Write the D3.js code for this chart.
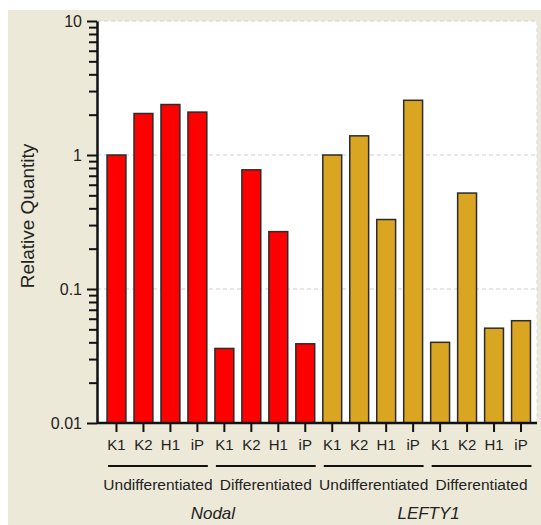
<!DOCTYPE html>
<html>
<head>
<meta charset="utf-8">
<script src="https://cdn.jsdelivr.net/npm/d3@7"></script>
<style>
  body { margin: 0; background: #fff; }
  svg { display: block; font-family: "Liberation Sans", Arial, sans-serif; }
</style>
</head>
<body>
<div id="chart"></div>
<script>
const genes = ['Nodal', 'LEFTY1'];
const conditions = ['Undifferentiated', 'Differentiated'];
const cellLines = ['K1', 'K2', 'H1', 'iP'];
// per gene: undifferentiated K1..iP, then differentiated K1..iP
const nodalValues = [1.0, 2.04, 2.38, 2.09, 0.036, 0.775, 0.268, 0.039];
const lefty1Values = [1.0, 1.39, 0.33, 2.56, 0.040, 0.52, 0.051, 0.058];
const yMajorTicks = [0.01, 0.1, 1, 10];
const colors = { 'Nodal': '#ff0000', 'LEFTY1': '#daa520' };

const W = 541, H = 525;
const plot = { left: 97, right: 537, top: 21, bottom: 423 };

// flatten into one row per bar
const rows = [];
[nodalValues, lefty1Values].forEach((vals, g) => {
  vals.forEach((v, i) => {
    const c = Math.floor(i / cellLines.length);
    rows.push({
      key: `${genes[g]}-${conditions[c]}-${cellLines[i % cellLines.length]}`,
      gene: genes[g], cond: conditions[c], line: cellLines[i % cellLines.length], value: v
    });
  });
});

const svg = d3.select('#chart').append('svg')
  .attr('width', W).attr('height', H);

svg.append('rect')
  .attr('x', 8).attr('y', 10).attr('width', W - 8).attr('height', H - 10)
  .attr('fill', '#ece9d8');

svg.append('rect')
  .attr('x', plot.left).attr('y', plot.top)
  .attr('width', plot.right - plot.left).attr('height', plot.bottom - plot.top)
  .attr('fill', '#fff');

const x = d3.scaleBand()
  .domain(rows.map(d => d.key))
  .range([103, 534.5])
  .paddingInner(0.3)
  .paddingOuter(0.15);

const y = d3.scaleLog().domain([0.01, 10]).range([plot.bottom, plot.top]);

// dashed gridlines
svg.append('g')
  .selectAll('line')
  .data(yMajorTicks.slice(1))
  .enter()
  .append('line')
    .attr('x1', plot.left).attr('x2', plot.right)
    .attr('y1', d => y(d)).attr('y2', d => y(d))
    .attr('stroke', '#cfcfcf')
    .attr('stroke-width', 1.2)
    .attr('stroke-dasharray', '4,3');

svg.append('line')
  .attr('x1', plot.right).attr('x2', plot.right)
  .attr('y1', plot.top).attr('y2', plot.bottom)
  .attr('stroke', '#d8d8d8').attr('stroke-dasharray', '4,3');

// bars
svg.append('g')
  .selectAll('rect')
  .data(rows)
  .enter()
  .append('rect')
    .attr('x', d => x(d.key))
    .attr('y', d => y(d.value))
    .attr('width', x.bandwidth())
    .attr('height', d => y(0.01) - y(d.value))
    .attr('fill', d => colors[d.gene])
    .attr('stroke', '#2b2b2b')
    .attr('stroke-width', 1.5);

// y axis: minor ticks then majors
const minorTicks = [];
yMajorTicks.slice(0, -1).forEach(base => {
  for (let k = 2; k <= 9; k++) minorTicks.push(base * k);
});

const yMinor = svg.append('g')
  .attr('transform', `translate(${plot.left},0)`)
  .call(d3.axisLeft(y).tickValues(minorTicks).tickSize(8).tickFormat(''));
yMinor.select('.domain').remove();
yMinor.selectAll('line').attr('stroke', '#111').attr('stroke-width', 2);

const yAxis = svg.append('g')
  .attr('transform', `translate(${plot.left},0)`)
  .call(d3.axisLeft(y).tickValues(yMajorTicks).tickSize(10).tickSizeOuter(0)
    .tickFormat(d => d3.format('~g')(d)));
yAxis.select('.domain').attr('stroke', '#111').attr('stroke-width', 2.5);
yAxis.selectAll('.tick line').attr('stroke', '#111').attr('stroke-width', 2);
yAxis.selectAll('.tick text')
  .attr('x', -15)
  .attr('font-size', 16)
  .attr('fill', '#222')
  .attr('font-family', '"Liberation Sans", Arial, sans-serif');

svg.append('text')
  .attr('transform', 'translate(34,216) rotate(-90)')
  .attr('text-anchor', 'middle')
  .attr('font-size', 19)
  .attr('fill', '#222')
  .text('Relative Quantity');

// x axis
const xAxis = svg.append('g')
  .attr('transform', `translate(0,${plot.bottom})`)
  .call(d3.axisBottom(x).tickSize(9).tickSizeOuter(0).tickFormat(k => rows.find(r => r.key === k).line));
xAxis.select('.domain').attr('stroke', '#111').attr('stroke-width', 2.5)
  .attr('d', `M${plot.left},0H${plot.right}`);
xAxis.selectAll('.tick line').attr('stroke', '#111').attr('stroke-width', 2);
xAxis.selectAll('.tick text')
  .attr('y', 16)
  .attr('font-size', 15)
  .attr('fill', '#222')
  .attr('font-family', '"Liberation Sans", Arial, sans-serif');

// condition groups
const groups = [];
genes.forEach(g => conditions.forEach(c => {
  const keys = rows.filter(r => r.gene === g && r.cond === c).map(r => r.key);
  groups.push({ gene: g, cond: c, x0: x(keys[0]), x1: x(keys[keys.length - 1]) + x.bandwidth() });
}));

const grp = svg.append('g');
grp.selectAll('line')
  .data(groups)
  .enter()
  .append('line')
    .attr('x1', d => d.x0 + 1).attr('x2', d => d.x1 + 1)
    .attr('y1', 466).attr('y2', 466)
    .attr('stroke', '#111').attr('stroke-width', 2);

grp.selectAll('text')
  .data(groups)
  .enter()
  .append('text')
    .attr('x', d => (d.x0 + d.x1) / 2 + 1)
    .attr('y', 490)
    .attr('text-anchor', 'middle')
    .attr('font-size', 15.5)
    .attr('fill', '#222')
    .text(d => d.cond);

svg.append('g')
  .selectAll('text')
  .data(genes)
  .enter()
  .append('text')
    .attr('x', g => {
      const gs = groups.filter(d => d.gene === g);
      return (gs[0].x0 + gs[gs.length - 1].x1) / 2 + 2;
    })
    .attr('y', 519)
    .attr('text-anchor', 'middle')
    .attr('font-size', 17)
    .attr('font-style', 'italic')
    .attr('fill', '#222')
    .text(g => g);
</script>
</body>
</html>
